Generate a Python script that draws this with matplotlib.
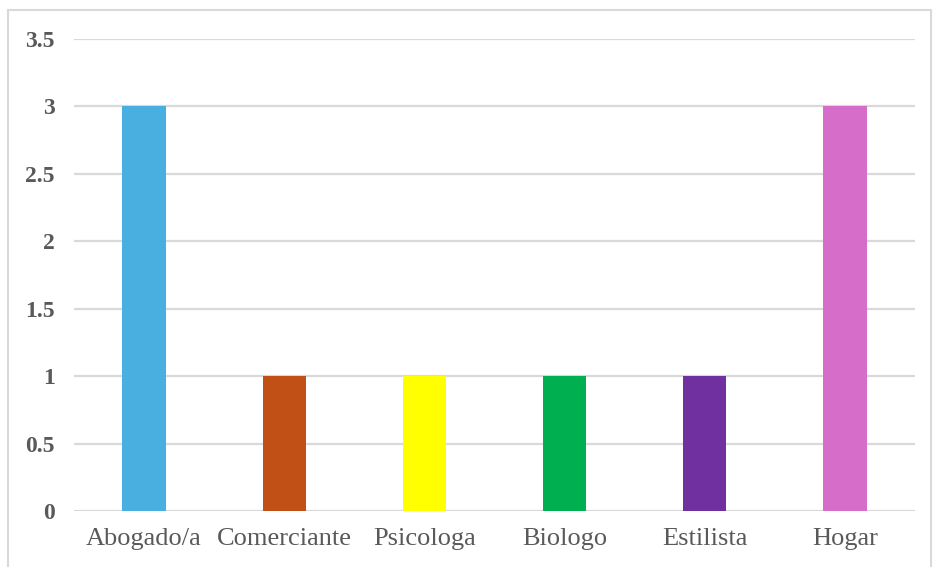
import matplotlib
matplotlib.use('Agg')
from matplotlib import pyplot as plt
from matplotlib.patches import Rectangle

categories = ['Abogado/a', 'Comerciante', 'Psicologa', 'Biologo', 'Estilista', 'Hogar']
values = [3, 1, 1, 1, 1, 3]
bar_colors = ['#48AFE0', '#C05016', '#FFFF00', '#00B050', '#7030A0', '#D66DC8']
y_ticks = [0, 0.5, 1, 1.5, 2, 2.5, 3, 3.5]
y_tick_labels = ['0', '0.5', '1', '1.5', '2', '2.5', '3', '3.5']

plt.rcParams['font.family'] = ['Liberation Serif', 'DejaVu Serif']

fig = plt.figure(figsize=(9.33, 5.67), dpi=100)
ax = fig.add_axes([74 / 933, 56 / 567, 841 / 933, 472 / 567])

x = list(range(len(categories)))
ax.bar(x, values, width=0.31, color=bar_colors, zorder=3)

ax.set_xlim(-0.5, len(categories) - 0.5)
ax.set_ylim(0, 3.5)
ax.set_yticks(y_ticks)
ax.set_yticklabels(y_tick_labels, fontsize=17, fontweight='bold', color='#595959')
ax.set_xticks(x)
ax.set_xticklabels(categories, fontsize=19, color='#595959')
ax.tick_params(axis='both', length=0)
ax.tick_params(axis='y', pad=14)
ax.tick_params(axis='x', pad=12)

ax.grid(axis='y', color='#D9D9D9', linewidth=1.6, zorder=0)
ax.set_axisbelow(True)
for s in ax.spines.values():
    s.set_visible(False)

# light frame around the chart area
fig.patches.append(Rectangle((8 / 933, -0.02), 923 / 933, 1 - 10 / 567 + 0.02,
                             transform=fig.transFigure, fill=False,
                             edgecolor='#D9D9D9', linewidth=1.5))

fig.savefig('out.png', dpi=100)
